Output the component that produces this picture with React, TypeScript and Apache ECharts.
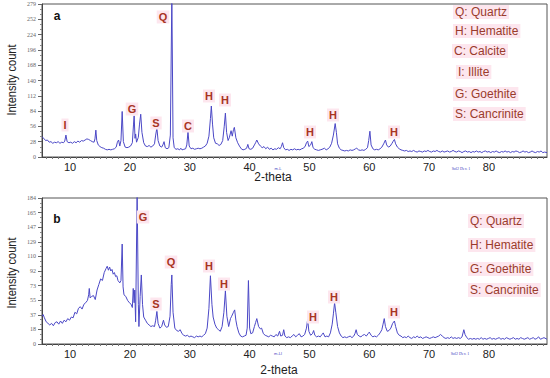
import React, { useEffect, useRef } from 'react';
import * as echarts from 'echarts';

// ---------------- data ----------------
const X_MIN = 5.3;
const X_MAX = 89.7;
const xTickLabels = [10, 20, 30, 40, 50, 60, 70, 80];
const xMinorTicks: number[] = Array.from({ length: 84 }, (_, i) => 6 + i);

const yMaxA = 279;
const yTickLabelsA = ['0', '28', '56', '84', '112', '140', '168', '196', '224', '252', '279'];
const yMaxB = 184;
const yTickLabelsB = ['0', '18', '37', '55', '73', '92', '110', '129', '147', '165', '184'];

// pattern a: [2-theta, intensity]
const patternA: [number, number][] = [
  [5.3, 37], [5.6, 34], [5.9, 30], [6.2, 31], [6.5, 27], [6.8, 28], [7.1, 25], [7.4, 27], [7.7, 26], [8.0, 28],
  [8.3, 25], [8.6, 27], [8.9, 26], [9.1, 29], [9.3, 40], [9.5, 28], [9.8, 26], [10.1, 27], [10.4, 25], [10.7, 28],
  [11.0, 26], [11.3, 29], [11.6, 27], [11.9, 30], [12.2, 29], [12.5, 31], [12.8, 33], [13.1, 32], [13.4, 30], [13.7, 28],
  [14.0, 27], [14.15, 33], [14.3, 49], [14.45, 30], [14.7, 22], [15.0, 19], [15.3, 17], [15.6, 16], [15.9, 14], [16.2, 13],
  [16.5, 14], [16.8, 13], [17.1, 14], [17.4, 15], [17.7, 18], [17.9, 27], [18.1, 31], [18.3, 20], [18.5, 30], [18.7, 83],
  [18.9, 28], [19.2, 18], [19.5, 17], [19.8, 18], [20.1, 20], [20.4, 26], [20.6, 60], [20.7, 75], [20.85, 34], [20.95, 42],
  [21.1, 27], [21.4, 36], [21.6, 60], [21.8, 78], [22.0, 45], [22.3, 26], [22.6, 20], [22.9, 19], [23.2, 21], [23.5, 18],
  [23.8, 20], [24.1, 24], [24.3, 40], [24.5, 53], [24.7, 30], [25.0, 20], [25.3, 18], [25.5, 22], [25.7, 28], [25.9, 17],
  [26.2, 15], [26.5, 17], [26.75, 40], [27.0, 295], [27.2, 35], [27.4, 17], [27.7, 14], [28.0, 15], [28.3, 13], [28.5, 16],
  [28.7, 13], [29.0, 14], [29.3, 15], [29.5, 22], [29.7, 46], [29.9, 20], [30.2, 15], [30.5, 16], [30.8, 14], [31.1, 15],
  [31.4, 16], [31.7, 15], [32.0, 16], [32.3, 18], [32.6, 20], [32.9, 25], [33.2, 38], [33.45, 70], [33.6, 93], [33.8, 60],
  [34.0, 35], [34.3, 25], [34.6, 24], [34.9, 21], [35.2, 23], [35.5, 30], [35.75, 55], [35.95, 80], [36.15, 45], [36.4, 30],
  [36.6, 35], [36.9, 48], [37.1, 38], [37.3, 50], [37.45, 54], [37.7, 35], [38.0, 26], [38.3, 20], [38.6, 15], [38.9, 13],
  [39.2, 14], [39.5, 16], [39.7, 23], [39.9, 15], [40.2, 14], [40.5, 16], [40.8, 22], [41.0, 26], [41.2, 31], [41.5, 24],
  [41.8, 20], [42.1, 17], [42.4, 19], [42.7, 15], [43.0, 18], [43.3, 14], [43.6, 16], [43.9, 13], [44.2, 15], [44.5, 14],
  [44.8, 17], [45.1, 15], [45.3, 19], [45.5, 26], [45.7, 17], [46.0, 13], [46.3, 14], [46.6, 12], [46.9, 14], [47.2, 13],
  [47.5, 15], [47.8, 13], [48.1, 14], [48.4, 13], [48.7, 15], [49.0, 16], [49.3, 20], [49.5, 26], [49.7, 29], [49.9, 19],
  [50.2, 22], [50.4, 28], [50.6, 17], [50.9, 14], [51.2, 13], [51.5, 12], [51.8, 13], [52.1, 14], [52.5, 16], [52.8, 13],
  [53.1, 15], [53.4, 18], [53.7, 25], [54.0, 40], [54.3, 61], [54.5, 45], [54.7, 24], [55.0, 16], [55.3, 13], [55.6, 12],
  [55.9, 11], [56.2, 12], [56.5, 11], [56.8, 13], [57.1, 12], [57.4, 13], [57.7, 15], [57.9, 16], [58.2, 13], [58.5, 12],
  [58.8, 13], [59.1, 12], [59.4, 14], [59.7, 17], [59.9, 30], [60.1, 47], [60.3, 22], [60.6, 15], [60.9, 13], [61.2, 14],
  [61.5, 13], [61.8, 15], [62.1, 18], [62.4, 24], [62.7, 31], [62.9, 22], [63.2, 18], [63.5, 20], [63.8, 25], [64.0, 29],
  [64.2, 32], [64.4, 24], [64.7, 18], [65.0, 15], [65.3, 13], [65.6, 12], [65.9, 11], [66.2, 12], [66.5, 10], [66.8, 11],
  [67.1, 10], [67.4, 12], [67.7, 10], [68.0, 9], [68.3, 11], [68.6, 10], [68.9, 9], [69.2, 11], [69.5, 10], [69.8, 12],
  [70.1, 10], [70.4, 9], [70.7, 11], [71.0, 10], [71.3, 12], [71.6, 10], [71.9, 9], [72.2, 11], [72.5, 9], [72.8, 10],
  [73.1, 11], [73.4, 9], [73.7, 10], [74.0, 12], [74.3, 10], [74.6, 9], [74.9, 11], [75.2, 10], [75.5, 8], [75.8, 10],
  [76.1, 11], [76.4, 9], [76.7, 10], [77.0, 8], [77.3, 10], [77.6, 9], [77.9, 11], [78.2, 9], [78.5, 10], [78.8, 8],
  [79.1, 10], [79.4, 11], [79.7, 9], [80.0, 10], [80.3, 8], [80.6, 10], [80.9, 9], [81.2, 11], [81.5, 9], [81.8, 8],
  [82.1, 10], [82.4, 9], [82.7, 11], [83.0, 9], [83.3, 10], [83.6, 8], [83.9, 10], [84.2, 9], [84.5, 11], [84.8, 10],
  [85.1, 8], [85.4, 9], [85.7, 11], [86.0, 9], [86.3, 10], [86.6, 8], [86.9, 9], [87.2, 11], [87.5, 9], [87.8, 8],
  [88.1, 10], [88.4, 9], [88.7, 11], [89.0, 8], [89.3, 9], [89.7, 8],
];

// pattern b: [2-theta, intensity]
const patternB: [number, number][] = [
  [5.3, 35], [5.5, 37], [5.7, 33], [6.0, 28], [6.3, 26], [6.6, 24], [6.9, 26], [7.2, 23], [7.5, 27], [7.8, 28],
  [8.1, 25], [8.4, 29], [8.7, 26], [9.0, 30], [9.3, 28], [9.6, 32], [9.9, 30], [10.2, 34], [10.5, 33], [10.8, 40],
  [11.1, 38], [11.4, 45], [11.7, 47], [12.0, 44], [12.3, 50], [12.6, 52], [12.9, 55], [13.1, 62], [13.2, 70], [13.35, 58],
  [13.6, 60], [13.9, 61], [14.2, 56], [14.5, 68], [14.8, 75], [15.1, 82], [15.4, 80], [15.7, 90], [16.0, 95], [16.2, 98],
  [16.4, 93], [16.6, 97], [16.8, 92], [17.0, 94], [17.2, 88], [17.4, 90], [17.6, 85], [17.8, 86], [18.0, 80], [18.3, 77],
  [18.5, 80], [18.7, 126], [18.85, 72], [19.0, 62], [19.3, 60], [19.6, 55], [19.9, 52], [20.2, 50], [20.4, 46], [20.55, 70],
  [20.7, 52], [20.8, 68], [20.95, 28], [21.2, 192], [21.4, 50], [21.5, 22], [21.7, 60], [21.9, 87], [22.1, 50], [22.3, 34],
  [22.6, 30], [22.9, 26], [23.2, 24], [23.5, 22], [23.8, 23], [24.1, 22], [24.3, 30], [24.5, 41], [24.7, 26], [25.0, 20],
  [25.3, 22], [25.6, 30], [25.8, 24], [26.1, 21], [26.4, 22], [26.7, 35], [26.9, 75], [27.0, 87], [27.2, 40], [27.5, 20],
  [27.8, 17], [28.1, 16], [28.4, 18], [28.7, 13], [29.0, 11], [29.3, 10], [29.6, 11], [29.9, 9], [30.2, 10], [30.5, 9],
  [30.8, 8], [31.1, 10], [31.4, 9], [31.7, 10], [32.0, 9], [32.3, 11], [32.6, 13], [32.9, 20], [33.2, 45], [33.45, 86],
  [33.7, 50], [33.9, 34], [34.2, 25], [34.5, 20], [34.8, 18], [35.1, 16], [35.4, 22], [35.7, 40], [35.95, 67], [36.2, 35],
  [36.5, 22], [36.8, 32], [37.0, 35], [37.3, 40], [37.5, 43], [37.7, 30], [37.9, 22], [38.2, 14], [38.5, 10], [38.8, 9],
  [39.1, 10], [39.4, 11], [39.6, 20], [39.8, 80], [40.0, 20], [40.2, 13], [40.5, 14], [40.8, 22], [41.0, 27], [41.2, 32],
  [41.5, 22], [41.8, 19], [42.0, 20], [42.3, 13], [42.6, 11], [42.9, 10], [43.2, 9], [43.5, 11], [43.8, 10], [44.1, 9],
  [44.4, 12], [44.7, 10], [45.0, 16], [45.2, 10], [45.5, 11], [45.7, 18], [45.9, 10], [46.2, 8], [46.5, 9], [46.8, 8],
  [47.1, 10], [47.4, 12], [47.7, 9], [48.0, 11], [48.3, 13], [48.6, 9], [48.9, 10], [49.2, 12], [49.5, 20], [49.7, 31],
  [49.9, 16], [50.2, 11], [50.5, 13], [50.7, 17], [50.9, 11], [51.2, 9], [51.5, 10], [51.8, 9], [52.1, 12], [52.3, 14],
  [52.6, 9], [52.9, 10], [53.2, 9], [53.5, 14], [53.8, 25], [54.0, 38], [54.2, 52], [54.4, 40], [54.7, 22], [55.0, 14],
  [55.3, 10], [55.6, 8], [55.9, 9], [56.2, 8], [56.5, 9], [56.8, 10], [57.1, 8], [57.4, 10], [57.6, 13], [57.8, 18],
  [58.0, 12], [58.3, 10], [58.6, 9], [58.9, 11], [59.2, 12], [59.5, 10], [59.8, 13], [60.0, 15], [60.3, 11], [60.6, 9],
  [60.9, 10], [61.2, 9], [61.5, 11], [61.8, 14], [62.1, 18], [62.3, 25], [62.5, 32], [62.7, 22], [63.0, 16], [63.3, 17],
  [63.6, 20], [63.9, 26], [64.2, 29], [64.4, 22], [64.7, 14], [65.0, 11], [65.3, 10], [65.6, 8], [65.9, 9], [66.2, 8],
  [66.5, 10], [66.8, 8], [67.1, 7], [67.4, 9], [67.7, 8], [68.0, 10], [68.3, 8], [68.6, 9], [68.9, 7], [69.2, 8],
  [69.5, 9], [69.8, 8], [70.1, 7], [70.4, 8], [70.7, 9], [71.0, 8], [71.3, 9], [71.6, 10], [71.9, 12], [72.2, 10],
  [72.5, 8], [72.8, 7], [73.1, 8], [73.4, 7], [73.7, 9], [74.0, 7], [74.3, 8], [74.6, 7], [74.9, 8], [75.2, 7],
  [75.5, 9], [75.8, 18], [76.0, 12], [76.3, 8], [76.6, 6], [76.9, 7], [77.2, 6], [77.5, 7], [77.8, 6], [78.1, 7],
  [78.4, 6], [78.7, 8], [79.0, 6], [79.3, 7], [79.6, 6], [79.9, 7], [80.2, 8], [80.5, 6], [80.8, 7], [81.1, 6],
  [81.4, 7], [81.7, 8], [82.0, 6], [82.3, 7], [82.6, 6], [82.9, 8], [83.2, 7], [83.5, 6], [83.8, 7], [84.1, 8],
  [84.4, 6], [84.7, 7], [85.0, 6], [85.3, 8], [85.6, 7], [85.9, 6], [86.2, 7], [86.5, 8], [86.8, 6], [87.1, 7],
  [87.4, 8], [87.7, 6], [88.0, 7], [88.3, 9], [88.6, 6], [88.9, 7], [89.2, 8], [89.7, 6],
];

const legendA = ['Q: Quartz', 'H: Hematite', 'C: Calcite', 'I: Illite', 'G: Goethite', 'S: Cancrinite'];
const legendB = ['Q: Quartz', 'H: Hematite', 'G: Goethite', 'S: Cancrinite'];

// ---------------- layout (pixels) ----------------
const gridA = { left: 42, top: 4, width: 505, height: 153 };
const gridB = { left: 42, top: 198, width: 505, height: 146 };

const legendPosA = [
  [453, 12], [453, 31], [452, 51], [456, 72], [453, 94], [453, 114],
];
const legendPosB = [
  [468, 221], [468, 245], [468, 269], [468, 290],
];

const peakLabelsA: [string, number, number][] = [
  ['Q', 163, 17], ['G', 132, 109], ['I', 65, 125], ['S', 156, 123], ['C', 188, 126],
  ['H', 209, 96], ['H', 225, 100], ['H', 310, 132], ['H', 333, 115], ['H', 394, 132],
];
const peakLabelsB: [string, number, number][] = [
  ['G', 143, 217], ['Q', 171, 262], ['S', 156, 304], ['H', 209, 266], ['H', 224, 284],
  ['H', 313, 317], ['H', 334, 297], ['H', 394, 312],
];

const LINE_COLOR = '#4b48c6';
const MARK_COLOR = '#a8341f';
const LEGEND_COLOR = '#9a3b2c';
const PINK = '#fde6ee';
const FONT = '"Liberation Sans", Arial, sans-serif';

function makeXAxis(gridIndex: number) {
  return {
    type: 'value',
    gridIndex,
    min: X_MIN,
    max: X_MAX,
    axisLine: { show: true, lineStyle: { color: '#444', width: 1 } },
    axisTick: { show: true, customValues: xMinorTicks, length: 2, lineStyle: { color: '#777' } },
    axisLabel: { customValues: xTickLabels, fontSize: 11, color: '#222', margin: 4, fontFamily: FONT },
    splitLine: { show: false },
  };
}

function makeYAxis(gridIndex: number, max: number, labels: string[]) {
  const step = max / 10;
  return {
    type: 'value',
    gridIndex,
    min: 0,
    max,
    interval: step,
    axisLine: { show: true, lineStyle: { color: '#444', width: 1 } },
    axisTick: { show: true, length: 4, lineStyle: { color: '#666' } },
    minorTick: { show: true, splitNumber: 3, length: 2, lineStyle: { color: '#888' } },
    axisLabel: {
      fontSize: 6,
      color: '#666',
      margin: 6,
      fontFamily: 'serif',
      formatter: (v: number) => labels[Math.round(v / step)] ?? '',
    },
    splitLine: { show: false },
  };
}

function textEl(text: string, x: number, y: number, opts: any = {}) {
  return {
    type: 'text',
    x,
    y,
    silent: true,
    z: 100,
    rotation: opts.rotation || 0,
    scaleX: opts.scaleX || 1,
    style: {
      text,
      fill: opts.fill || '#222',
      font: opts.font || `12px ${FONT}`,
      align: opts.align || 'center',
      textAlign: opts.align || 'center',
      verticalAlign: 'middle',
      textVerticalAlign: 'middle',
      backgroundColor: opts.bg,
      padding: opts.bg ? [1, 2] : undefined,
    },
  };
}

export default function App() {
  const ref = useRef<HTMLDivElement>(null);

  useEffect(() => {
    document.body.style.margin = '0';
    if (!ref.current) return;
    const chart = echarts.init(ref.current, undefined, { renderer: 'svg' });

    const graphics: any[] = [];
    graphics.push(textEl('a', 57, 16, { font: `bold 12px ${FONT}`, fill: '#111' }));
    graphics.push(textEl('b', 57, 219, { font: `bold 12px ${FONT}`, fill: '#111' }));
    graphics.push(textEl('Intensity count', 12, 80, { rotation: Math.PI / 2, scaleX: 0.85, font: `13px ${FONT}` }));
    graphics.push(textEl('Intensity count', 12, 273, { rotation: Math.PI / 2, scaleX: 0.85, font: `13px ${FONT}` }));
    graphics.push(textEl('2-theta', 273, 177, { font: `12px ${FONT}` }));
    graphics.push(textEl('2-theta', 279, 370, { font: `12px ${FONT}` }));
    graphics.push(textEl('m-L', 278, 168, { font: `4px ${FONT}`, fill: '#4040c0' }));
    graphics.push(textEl('m-Ll', 278, 353, { font: `4px ${FONT}`, fill: '#4040c0' }));
    graphics.push(textEl('Sol2 Dev. 1', 461, 168, { font: `4px serif`, fill: '#4040c0' }));
    graphics.push(textEl('Sol2 Dev. 1', 460, 353, { font: `4px serif`, fill: '#4040c0' }));

    legendA.forEach((t, i) =>
      graphics.push(textEl(t, legendPosA[i][0], legendPosA[i][1], { align: 'left', fill: LEGEND_COLOR, bg: PINK, font: `12px ${FONT}` })),
    );
    legendB.forEach((t, i) =>
      graphics.push(textEl(t, legendPosB[i][0], legendPosB[i][1], { align: 'left', fill: LEGEND_COLOR, bg: PINK, font: `12px ${FONT}` })),
    );
    [...peakLabelsA, ...peakLabelsB].forEach(([t, x, y]) =>
      graphics.push(textEl(t, x, y, { fill: MARK_COLOR, bg: PINK, font: `bold 11px ${FONT}` })),
    );

    chart.setOption({
      animation: false,
      backgroundColor: '#ffffff',
      grid: [
        { ...gridA, show: true, borderColor: '#555', borderWidth: 1, backgroundColor: 'transparent' },
        { ...gridB, show: true, borderColor: '#555', borderWidth: 1, backgroundColor: 'transparent' },
      ],
      xAxis: [makeXAxis(0), makeXAxis(1)],
      yAxis: [makeYAxis(0, yMaxA, yTickLabelsA), makeYAxis(1, yMaxB, yTickLabelsB)],
      series: [
        {
          type: 'line',
          xAxisIndex: 0,
          yAxisIndex: 0,
          data: patternA,
          showSymbol: false,
          symbol: 'none',
          clip: true,
          lineStyle: { color: LINE_COLOR, width: 1 },
        },
        {
          type: 'line',
          xAxisIndex: 1,
          yAxisIndex: 1,
          data: patternB,
          showSymbol: false,
          symbol: 'none',
          clip: true,
          lineStyle: { color: LINE_COLOR, width: 1 },
        },
      ],
      graphic: graphics,
    });

    return () => chart.dispose();
  }, []);

  return <div ref={ref} style={{ width: 550, height: 378 }} />;
}
